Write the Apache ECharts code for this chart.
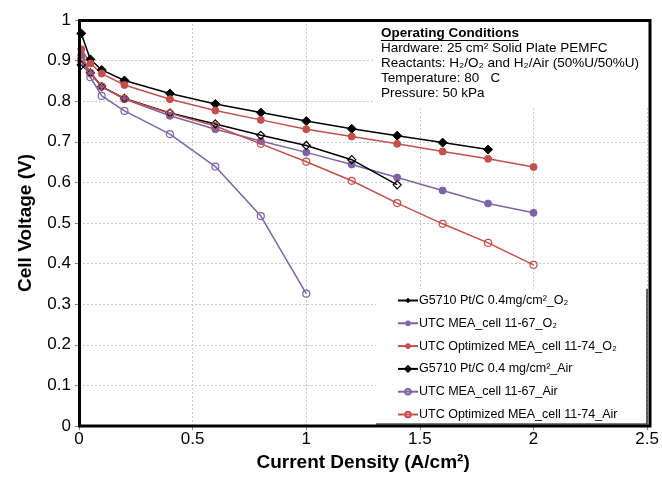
<!DOCTYPE html>
<html><head><meta charset="utf-8">
<script src="https://cdn.jsdelivr.net/npm/echarts@6/dist/echarts.min.js"></script>
<style>html,body{margin:0;padding:0;background:#fff}#c{width:662px;height:491px}</style>
</head><body><div id="c"></div>
<script>
const seriesNames = [
  'G5710 Pt/C 0.4mg/cm²_O₂',
  'UTC MEA_cell 11-67_O₂',
  'UTC Optimized MEA_cell 11-74_O₂',
  'G5710 Pt/C 0.4 mg/cm²_Air',
  'UTC MEA_cell 11-67_Air',
  'UTC Optimized MEA_cell 11-74_Air'
];
const xG5710O2 = [0.01, 0.05, 0.1, 0.2, 0.4, 0.6, 0.8, 1.0, 1.2, 1.4, 1.6, 1.8];
const yG5710O2 = [0.967, 0.903, 0.877, 0.851, 0.819, 0.793, 0.772, 0.751, 0.732, 0.715, 0.698, 0.681];
const xUtc67O2 = [0.01, 0.05, 0.1, 0.2, 0.4, 0.6, 0.8, 1.0, 1.2, 1.4, 1.6, 1.8, 2.0];
const yUtc67O2 = [0.914, 0.869, 0.836, 0.805, 0.764, 0.731, 0.702, 0.674, 0.644, 0.612, 0.580, 0.548, 0.525];
const xUtc74O2 = [0.01, 0.05, 0.1, 0.2, 0.4, 0.6, 0.8, 1.0, 1.2, 1.4, 1.6, 1.8, 2.0];
const yUtc74O2 = [0.928, 0.893, 0.868, 0.840, 0.805, 0.777, 0.754, 0.731, 0.713, 0.695, 0.676, 0.658, 0.638];
const xG5710Air = [0.01, 0.05, 0.1, 0.2, 0.4, 0.6, 0.8, 1.0, 1.2, 1.4];
const yG5710Air = [0.889, 0.870, 0.836, 0.807, 0.771, 0.744, 0.716, 0.691, 0.656, 0.594];
const xUtc67Air = [0.01, 0.05, 0.1, 0.2, 0.4, 0.6, 0.8, 1.0];
const yUtc67Air = [0.898, 0.859, 0.813, 0.776, 0.719, 0.639, 0.517, 0.326];
const xUtc74Air = [0.01, 0.05, 0.1, 0.2, 0.4, 0.6, 0.8, 1.0, 1.2, 1.4, 1.6, 1.8, 2.0];
const yUtc74Air = [0.903, 0.869, 0.836, 0.806, 0.770, 0.739, 0.695, 0.651, 0.604, 0.549, 0.498, 0.451, 0.397];
const xTicks = [0, 0.5, 1, 1.5, 2, 2.5];
const yTicks = [0, 0.1, 0.2, 0.3, 0.4, 0.5, 0.6, 0.7, 0.8, 0.9, 1];

const BLACK = '#000000', PURPLE = '#7f63a6', RED = '#c4504c';
const FONT = 'Liberation Sans';
function pairs(xs, ys){ return xs.map((x,i)=>[x, ys[i]]); }
function mk(name, xs, ys, color, symbol, size, hollow){
  return {
    name, type:'line', data: pairs(xs, ys), symbol, symbolSize: size,
    lineStyle:{color, width:1.5},
    itemStyle: hollow ? {color:'rgba(255,255,255,0)', borderColor:color, borderWidth:1.2} : {color, borderColor:color},
    emphasis:{disabled:true}, z: 3
  };
}
const chart = echarts.init(document.getElementById('c'), null, {renderer:'canvas'});
chart.setOption({
  animation:false,
  backgroundColor:'#fff',
  grid:{left:79, top:20, right:12, bottom:65, show:false},
  xAxis:{type:'value', min:0, max:2.5, interval:0.5,
    axisLine:{show:false}, axisTick:{show:true, length:4, lineStyle:{color:'#888'}},
    splitLine:{show:true, lineStyle:{color:'#c8c8c8', type:[2,2], width:1}},
    axisLabel:{fontFamily:FONT, fontSize:17, color:'#000', margin:5, formatter:v=>String(v)},
    name:'Current Density (A/cm²)', nameLocation:'middle', nameGap:17,
    nameTextStyle:{fontFamily:FONT, fontSize:19, fontWeight:'bold', color:'#000'}},
  yAxis:{type:'value', min:0, max:1, interval:0.1,
    axisLine:{show:false}, axisTick:{show:true, length:4, lineStyle:{color:'#888'}},
    splitLine:{show:true, lineStyle:{color:'#c8c8c8', type:[2,2], width:1}},
    axisLabel:{fontFamily:FONT, fontSize:17, color:'#000', margin:8, formatter:v=>String(+v.toFixed(1))},
    name:'Cell Voltage (V)', nameLocation:'middle', nameGap:44,
    nameTextStyle:{fontFamily:FONT, fontSize:19, fontWeight:'bold', color:'#000'}},
  legend:{orient:'vertical', left:392, top:289, itemGap:9.8, itemWidth:20, itemHeight:7,
    data: seriesNames,
    textStyle:{fontFamily:FONT, fontSize:12.5, lineHeight:13, color:'#000', padding:[0,0,0,-4]}, z:10},
  series:[
    mk(seriesNames[0], xG5710O2, yG5710O2, BLACK, 'diamond', 9, false),
    mk(seriesNames[1], xUtc67O2, yUtc67O2, PURPLE, 'circle', 7, false),
    mk(seriesNames[2], xUtc74O2, yUtc74O2, RED, 'circle', 7, false),
    mk(seriesNames[3], xG5710Air, yG5710Air, BLACK, 'diamond', 8, true),
    mk(seriesNames[4], xUtc67Air, yUtc67Air, PURPLE, 'circle', 7, true),
    mk(seriesNames[5], xUtc74Air, yUtc74Air, RED, 'circle', 7, true)
  ],
  graphic:[
    {type:'rect', shape:{x:373, y:21, width:276, height:85}, style:{fill:'#fff'}, z:5},
    {type:'text', left:381, top:26, z:6, style:{fontFamily:FONT, fontSize:13.5, lineHeight:15, fill:'#000',
      text:'{u|Operating Conditions}\nHardware: 25 cm² Solid Plate PEMFC\nReactants: H₂/O₂ and H₂/Air (50%U/50%U)\nTemperature: 80   C\nPressure: 50 kPa',
      rich:{u:{fontFamily:FONT, fontSize:13.5, fontWeight:'bold', lineHeight:15}}}},
    {type:'line', shape:{x1:381, y1:40.5, x2:519, y2:40.5}, style:{stroke:'#000', lineWidth:1}, z:6},
    {type:'rect', shape:{x:376, y:289, width:271, height:135}, style:{fill:'#fff'}, z:5},
    {type:'polyline', shape:{points:[[647,289],[647,424],[376,424]]}, style:{stroke:'#000', lineWidth:1.2, fill:null}, z:6},
    {type:'rect', shape:{x:79.5, y:20.5, width:570.5, height:405.5}, style:{fill:null, stroke:'#000', lineWidth:3}, z:7}
  ]
});
</script></body></html>
